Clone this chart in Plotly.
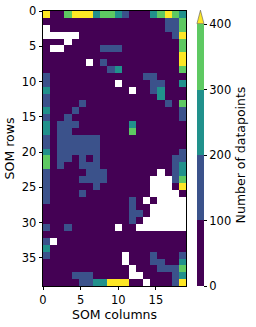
import numpy as np
import plotly.graph_objects as go

# Estimated datapoint counts per SOM node (rows x columns); None = empty node
P, B, T, G, Y, W = 50, 150, 250, 350, 450, None
counts = [
    [Y, P, P, G, Y, Y, Y, T, G, G, T, B, P, P, P, T, G, Y, G, T],
    [P, P, P, P, P, P, P, P, P, P, P, P, P, P, P, P, P, B, B, G],
    [W, P, P, P, P, P, P, P, P, P, P, P, P, P, P, P, P, B, B, G],
    [W, W, W, W, W, P, P, P, P, P, P, P, P, P, P, P, P, P, B, Y],
    [P, P, P, W, P, P, P, P, P, P, P, P, P, P, P, P, P, P, P, G],
    [P, W, W, P, P, P, P, P, B, B, B, P, P, P, P, P, P, P, P, G],
    [P, P, P, P, P, P, P, P, P, P, P, P, P, P, P, P, P, P, P, Y],
    [P, P, P, P, P, P, W, P, B, P, P, P, P, P, P, P, P, P, P, Y],
    [P, P, P, P, P, P, P, P, P, B, T, P, P, P, P, P, P, P, P, G],
    [B, P, P, P, P, P, P, P, P, P, P, P, P, P, B, B, P, P, P, P],
    [B, P, P, P, P, P, P, P, P, P, W, P, P, P, P, B, B, P, P, T],
    [T, P, P, P, P, P, P, P, P, P, P, P, W, P, P, B, T, P, P, P],
    [B, P, P, P, P, P, P, P, P, P, P, P, P, P, P, P, T, P, P, P],
    [B, P, P, P, P, B, P, P, P, P, P, P, P, P, P, P, P, B, P, G],
    [T, P, P, P, B, P, P, P, P, P, P, P, P, P, P, P, P, P, P, B],
    [B, P, P, B, P, P, P, P, P, P, P, P, P, P, P, P, P, P, P, B],
    [T, P, B, B, B, P, P, P, P, P, P, P, T, P, P, P, P, P, P, P],
    [T, P, B, B, P, P, P, P, P, P, P, P, G, P, P, P, P, P, P, P],
    [B, P, B, B, B, B, B, B, P, P, P, P, P, P, P, P, P, P, P, P],
    [B, P, B, B, B, B, B, B, P, P, P, P, P, P, P, P, P, P, P, P],
    [T, P, B, B, B, B, B, B, P, P, P, P, P, P, P, P, P, P, P, B],
    [G, P, B, B, P, B, P, B, P, P, P, P, P, P, P, P, P, P, B, B],
    [G, P, B, P, P, B, B, B, P, P, P, P, P, P, P, P, P, P, B, T],
    [B, P, P, P, P, P, B, B, B, P, P, P, P, P, P, P, W, P, B, T],
    [B, P, P, P, P, B, B, B, B, P, P, P, P, P, P, W, W, W, B, G],
    [B, P, P, P, P, P, P, B, P, P, P, P, P, P, P, W, W, W, P, Y],
    [B, P, P, P, P, B, P, P, P, P, P, P, P, P, P, W, W, W, W, P],
    [B, P, P, P, P, P, P, P, P, P, P, P, B, P, W, P, W, W, W, W],
    [P, P, P, P, P, P, P, P, P, P, P, P, B, P, P, W, W, W, W, W],
    [P, P, P, P, P, P, P, P, P, P, P, P, B, B, P, W, W, W, W, W],
    [P, P, P, P, P, P, P, P, P, P, P, P, B, P, W, W, W, W, W, W],
    [B, P, P, B, P, P, P, P, P, P, W, P, P, W, W, W, W, W, W, W],
    [P, P, P, P, P, P, P, P, P, P, P, P, P, P, P, P, P, P, P, P],
    [B, W, P, P, P, P, P, P, P, P, P, P, P, P, P, P, P, P, P, P],
    [T, P, P, P, P, P, P, P, P, P, P, P, P, P, P, P, P, P, P, P],
    [B, P, P, P, P, P, P, P, P, P, P, W, P, P, P, B, P, P, P, B],
    [P, P, P, P, P, P, P, P, P, P, P, W, P, P, P, B, B, P, P, T],
    [P, P, P, P, P, P, P, P, P, P, P, P, W, P, P, P, B, B, B, G],
    [P, P, P, P, B, B, B, P, P, P, P, P, W, W, P, P, P, P, B, T],
    [P, P, P, P, P, B, B, T, T, Y, Y, Y, P, P, W, P, P, P, B, Y],
]
x_ticks = [0, 5, 10, 15]
y_ticks = [0, 5, 10, 15, 20, 25, 30, 35]
cbar_ticks = [0, 100, 200, 300, 400]
bin_colors = ["#440154", "#3b528b", "#21918c", "#5ec962"]
over_color = "#fde725"
x_extent = 19
y_extent = 39

Z = np.array([[np.nan if v is None else v for v in row] for row in counts], dtype=float)
nrows, ncols = Z.shape
x_edges = np.linspace(0, x_extent, ncols + 1)
y_edges = np.linspace(0, y_extent, nrows + 1)

z_main = np.where(Z <= 400, Z, np.nan)
z_over = np.where(Z > 400, Z, np.nan)

cs = []
n = len(bin_colors)
for i, c in enumerate(bin_colors):
    cs.append([i / n, c])
    cs.append([(i + 1) / n, c])

FONT = "DejaVu Sans"
TICK = 11.5
TITLE = 12.5
fig = go.Figure()
fig.add_trace(go.Heatmap(
    z=z_main, x=x_edges, y=y_edges, zmin=0, zmax=400, colorscale=cs,
    hoverongaps=False,
    colorbar=dict(
        thickness=7, len=0.954, lenmode="fraction", y=0, yanchor="bottom",
        x=1.0765, xanchor="left", xpad=0, ypad=0, outlinewidth=0,
        tickvals=cbar_ticks, ticks="outside", ticklen=3.5, tickwidth=0.8,
        tickcolor="black", tickfont=dict(family=FONT, size=TICK, color="black"),
        title=dict(text="Number of datapoints", side="right",
                   font=dict(family=FONT, size=TITLE, color="black")),
    ),
))
fig.add_trace(go.Heatmap(
    z=z_over, x=x_edges, y=y_edges, colorscale=[[0, over_color], [1, over_color]],
    showscale=False, hoverongaps=False,
))

# colorbar "extend" arrow
bx0 = 1.0765
bx1 = bx0 + 7 / 142.5
fig.add_shape(type="path", xref="paper", yref="paper",
              path=f"M {bx0},0.954 L {bx1},0.954 L {(bx0+bx1)/2},1.003 Z",
              fillcolor=over_color, line=dict(color="#555555", width=0.6))

axis_common = dict(showgrid=False, zeroline=False, showline=True, linecolor="black",
                   linewidth=0.8, mirror=True, ticks="outside", ticklen=3.5,
                   tickwidth=0.8, tickcolor="black", automargin=False,
                   tickfont=dict(family=FONT, size=TICK, color="black"))
fig.update_xaxes(range=[0, x_extent], tickvals=x_ticks,
                 title=dict(text="SOM columns", standoff=2,
                            font=dict(family=FONT, size=TITLE, color="black")),
                 **axis_common)
fig.update_yaxes(range=[y_extent, 0], tickvals=y_ticks,
                 title=dict(text="SOM rows", standoff=4,
                            font=dict(family=FONT, size=TITLE, color="black")),
                 **axis_common)
fig.update_layout(
    width=256, height=327,
    margin=dict(l=43, r=70, t=11, b=41, pad=0, autoexpand=False),
    paper_bgcolor="white", plot_bgcolor="white",
    font=dict(family=FONT, size=TICK, color="black"),
)
fig.write_html("out.html", config={"displayModeBar": False},
               post_script="document.body.style.margin='0';document.body.style.padding='0';")
